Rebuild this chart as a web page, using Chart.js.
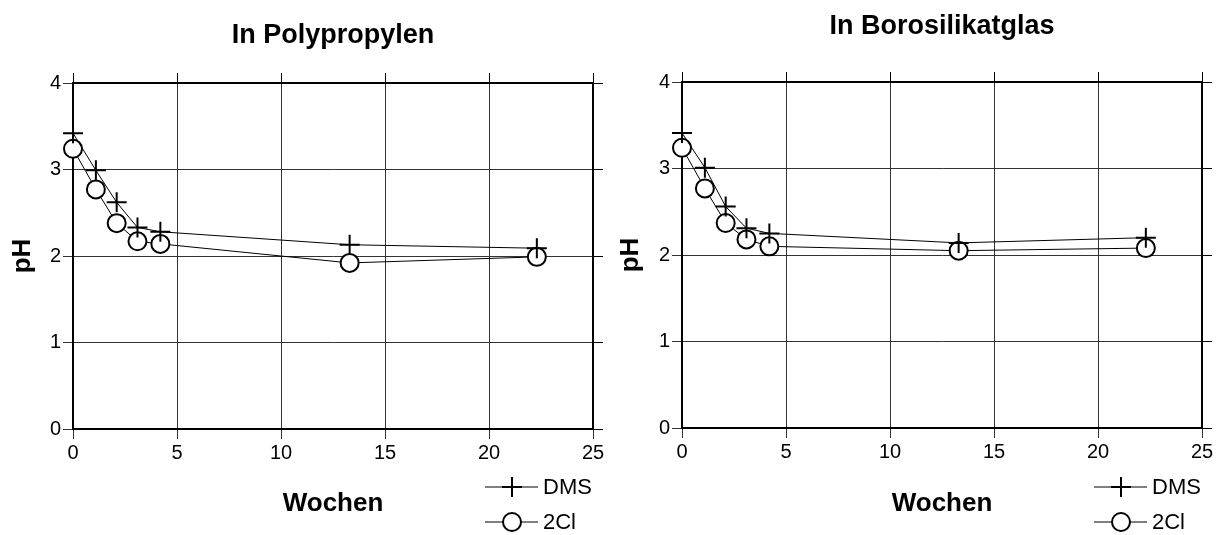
<!DOCTYPE html>
<html>
<head>
<meta charset="utf-8">
<script src="https://cdn.jsdelivr.net/npm/chart.js@4.4.1/dist/chart.umd.min.js"></script>
<style>
  body { margin: 0; background: #fff; }
  .panel { position: absolute; top: 0; width: 608px; height: 535px; }
</style>
</head>
<body>
<div class="panel" style="left:0"><canvas id="pp_chart" width="608" height="535"></canvas></div>
<div class="panel" style="left:608px"><canvas id="bs_chart" width="608" height="535"></canvas></div>
<script>
const FONT = "'Liberation Sans', Arial, sans-serif";

// Lagerzeit in Wochen
const weeks = [0, 1.1, 2.1, 3.1, 4.2, 13.3, 22.3];
const seriesNames = ["DMS", "2Cl"];

// pH-Werte in Polypropylen
const ppDms = [3.42, 2.99, 2.62, 2.33, 2.28, 2.13, 2.09];
const ppCl = [3.24, 2.77, 2.38, 2.17, 2.14, 1.92, 1.99];

// pH-Werte in Borosilikatglas
const bsDms = [3.41, 3.01, 2.56, 2.31, 2.25, 2.14, 2.2];
const bsCl = [3.24, 2.77, 2.37, 2.18, 2.1, 2.05, 2.08];

const xTicks = [0, 5, 10, 15, 20, 25];
const yTicks = [0, 1, 2, 3, 4];

function points(ys) {
  return ys.map((y, i) => ({ x: weeks[i], y: y }));
}

// legend as a column below the right end of the x axis
const sideLegend = {
  id: "sideLegend",
  afterDraw(chart) {
    const { ctx, chartArea } = chart;
    const x0 = chartArea.right - 108;
    chart.data.datasets.forEach((ds, i) => {
      const y = 487 + i * 35;
      ctx.save();
      ctx.strokeStyle = "#000";
      ctx.lineWidth = 1;
      ctx.beginPath();
      ctx.moveTo(x0, y);
      ctx.lineTo(x0 + 53, y);
      ctx.stroke();
      ctx.lineWidth = 2;
      ctx.fillStyle = "#fff";
      Chart.helpers.drawPoint(
        ctx,
        { pointStyle: ds.pointStyle, radius: ds.pointRadius, rotation: 0, borderWidth: 2 },
        x0 + 27,
        y
      );
      ctx.fillStyle = "#000";
      ctx.font = "22px " + FONT;
      ctx.textBaseline = "middle";
      ctx.textAlign = "left";
      ctx.fillText(ds.label, x0 + 58, y + 1);
      ctx.restore();
    });
  },
};

function createPhChart(id, title, dms, cl, box) {
  const ctx = document.getElementById(id);
  const tickOnly = {
    min: 0,
    grid: { drawOnChartArea: false, tickLength: 10, color: "#000", lineWidth: 1 },
    border: { color: "#000", width: 2 },
    ticks: { display: false },
  };
  return new Chart(ctx, {
    type: "line",
    data: {
      datasets: [
        {
          label: seriesNames[0],
          data: points(dms),
          clip: false,
          borderColor: "#000",
          borderWidth: 1,
          pointStyle: "cross",
          pointRadius: 10,
          pointBorderWidth: 2,
          pointBorderColor: "#000",
        },
        {
          label: seriesNames[1],
          data: points(cl),
          clip: false,
          borderColor: "#000",
          borderWidth: 1,
          pointStyle: "circle",
          pointRadius: 9,
          pointBorderWidth: 2,
          pointBorderColor: "#000",
          pointBackgroundColor: "#fff",
        },
      ],
    },
    options: {
      responsive: false,
      animation: false,
      layout: { padding: 0 },
      plugins: {
        legend: { display: false },
        tooltip: { enabled: false },
        title: {
          display: true,
          text: title,
          fullSize: false,
          color: "#000",
          font: { family: FONT, size: 27, weight: "bold" },
          padding: { top: box.titleTop, bottom: box.top - 10 - 32.4 - box.titleTop },
        },
      },
      scales: {
        x: {
          type: "linear",
          position: "bottom",
          min: 0,
          max: xTicks[xTicks.length - 1],
          afterBuildTicks: (s) => { s.ticks = xTicks.map((v) => ({ value: v })); },
          grid: { color: "#333", lineWidth: 1, tickLength: 10 },
          border: { color: "#000", width: 2 },
          ticks: { color: "#000", font: { family: FONT, size: 20 }, padding: 2, maxRotation: 0 },
          title: {
            display: true,
            text: "Wochen",
            color: "#000",
            font: { family: FONT, size: 26, weight: "bold" },
            padding: { top: 0, bottom: 16 },
          },
          afterFit: (s) => { s.height = box.bottom; },
        },
        x2: Object.assign({}, tickOnly, {
          type: "linear",
          position: "top",
          max: xTicks[xTicks.length - 1],
          afterBuildTicks: (s) => { s.ticks = xTicks.map((v) => ({ value: v })); },
          afterFit: (s) => { s.height = 10; },
        }),
        y: {
          position: "left",
          min: 0,
          max: yTicks[yTicks.length - 1],
          afterBuildTicks: (s) => { s.ticks = yTicks.map((v) => ({ value: v })); },
          grid: { color: "#333", lineWidth: 1, tickLength: 10 },
          border: { color: "#000", width: 2 },
          ticks: { color: "#000", font: { family: FONT, size: 20 }, padding: 2 },
          title: {
            display: true,
            text: "pH",
            color: "#000",
            font: { family: FONT, size: 26, weight: "bold" },
            padding: { top: 7, bottom: 0 },
          },
          afterFit: (s) => { s.width = box.left; },
        },
        y2: Object.assign({}, tickOnly, {
          position: "right",
          max: yTicks[yTicks.length - 1],
          afterBuildTicks: (s) => { s.ticks = yTicks.map((v) => ({ value: v })); },
          afterFit: (s) => { s.width = box.right; },
        }),
      },
    },
    plugins: [sideLegend],
  });
}

createPhChart("pp_chart", "In Polypropylen", ppDms, ppCl,
  { left: 73, right: 15, top: 83, bottom: 106, titleTop: 19 });
createPhChart("bs_chart", "In Borosilikatglas", bsDms, bsCl,
  { left: 74, right: 14, top: 82, bottom: 107, titleTop: 10 });
</script>
</body>
</html>
